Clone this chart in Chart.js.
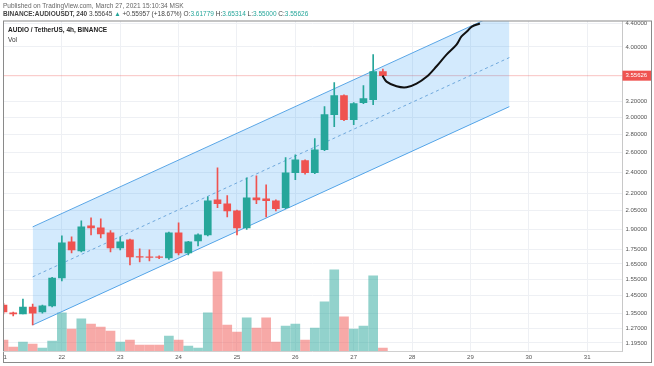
<!DOCTYPE html>
<html>
<head>
<meta charset="utf-8">
<script src="https://cdn.jsdelivr.net/npm/chart.js@4"></script>
<style>
  body { margin: 0; background: #fff; font-family: "Liberation Sans", Arial, sans-serif; }
  #wrap { position: relative; width: 654px; height: 366px; }
  canvas { position: absolute; left: 0; top: 0; }
  .txt { position: absolute; white-space: nowrap; font-size: 6.5px; line-height: 8px; color: #444; }
  .g { color: #26a69a; }
</style>
</head>
<body>
<div id="wrap">
  <canvas id="chart" width="654" height="366"></canvas>
  <div class="txt" style="left:3px;top:2px;color:#666">Published on TradingView.com, March 27, 2021 15:10:34 MSK</div>
  <div class="txt" style="left:3px;top:10px"><b>BINANCE:AUDIOUSDT, 240</b> 3.55645 <span class="g">▲</span> +0.55957 (+18.67%) O:<span class="g">3.61779</span> H:<span class="g">3.65314</span> L:<span class="g">3.55000</span> C:<span class="g">3.55626</span></div>
  <div class="txt" style="left:8px;top:26px;color:#222"><b>AUDIO / TetherUS, 4h, BINANCE</b></div>
  <div class="txt" style="left:8px;top:36px;color:#333">Vol</div>
</div>
<script>
// 4h candles, index 0 = Mar 21 00:00
const opens  = [1.395,1.352,1.345,1.384,1.356,1.390,1.558,1.805,1.740,1.927,1.911,1.873,1.762,1.820,1.700,1.698,1.699,1.691,1.873,1.726,1.813,1.858,2.143,2.109,2.049,1.911,2.161,2.152,2.135,2.075,2.393,2.514,2.393,2.629,3.033,3.278,2.972,3.186,3.225,3.61779];
const highs  = [1.405,1.356,1.430,1.401,1.395,1.562,1.850,1.843,1.967,1.991,1.983,1.890,1.843,1.825,1.755,1.747,1.705,1.878,1.951,1.810,1.865,2.170,2.443,2.180,2.055,2.345,2.364,2.279,2.143,2.545,2.576,2.524,2.750,3.134,3.457,3.290,3.186,3.415,3.876,3.65314];
const lows   = [1.345,1.334,1.345,1.286,1.350,1.384,1.539,1.726,1.733,1.858,1.835,1.733,1.747,1.643,1.664,1.670,1.685,1.680,1.712,1.712,1.776,1.850,2.075,1.999,1.858,1.900,2.109,1.999,2.049,2.066,2.326,2.380,2.385,2.620,2.888,2.960,2.912,3.173,3.160,3.55];
const closes = [1.356,1.346,1.384,1.350,1.390,1.558,1.798,1.747,1.919,1.911,1.865,1.762,1.805,1.698,1.696,1.695,1.694,1.873,1.726,1.805,1.858,2.135,2.109,2.049,1.911,2.161,2.143,2.135,2.066,2.393,2.524,2.393,2.629,3.033,3.278,2.972,3.173,3.238,3.616,3.55626];
const volumes = [110,40,90,70,30,100,380,220,320,270,240,200,90,110,60,60,60,150,110,50,30,380,790,260,190,330,230,330,90,250,270,110,230,490,810,340,220,250,750,30];

const priceTicks = [4.4,4.0,3.2,3.0,2.8,2.6,2.4,2.2,2.05,1.9,1.75,1.65,1.55,1.45,1.35,1.27,1.195];
const dayTicks = [0,6,12,18,24,30,36,42,48,54,60];
const dayLabels = ["21","22","23","24","25","26","27","28","29","30","31"];
const lastPrice = 3.55626;

// drawn channel (start / end candle index)
const chanX = [3, 52];
const chanUpper = [1.919, 4.678];
const chanMid = [1.565, 3.829];
const chanLower = [1.286, 3.134];

// hand drawn projection
const curveX = [38.96,39.37,40.40,41.43,42.46,43.49,44.52,45.54,46.57,47.08,47.74,48.15,48.97];
const curveY = [3.557,3.471,3.406,3.392,3.443,3.539,3.696,3.876,4.038,4.173,4.276,4.346,4.40];

const UP = "#26a69a", DOWN = "#ef5350";
const isUp = closes.map((c, i) => c >= opens[i]);
const candleColors = isUp.map(u => u ? UP : DOWN);
const volColors = isUp.map(u => u ? "rgba(38,166,154,0.5)" : "rgba(239,83,80,0.5)");
const pts = (xs, ys) => xs.map((x, i) => ({ x: x, y: ys[i] }));

const overlay = {
  id: "overlay",
  afterDraw(chart) {
    const { ctx, chartArea: a, scales: { x, y } } = chart;
    // time labels
    ctx.save();
    ctx.beginPath();
    ctx.rect(a.left, a.bottom, a.right - a.left, 12);
    ctx.clip();
    ctx.font = '6px "Liberation Sans", Arial';
    ctx.fillStyle = "#555";
    ctx.textAlign = "center";
    ctx.textBaseline = "middle";
    dayTicks.forEach((t, k) => ctx.fillText(dayLabels[k], x.getPixelForValue(t), 357));
    ctx.restore();

    // last price tag
    const py = y.getPixelForValue(lastPrice);
    ctx.save();
    ctx.fillStyle = DOWN;
    ctx.fillRect(a.right, py - 5, 28.5, 10);
    ctx.fillStyle = "#fff";
    ctx.font = '6px "Liberation Sans", Arial';
    ctx.textBaseline = "middle";
    ctx.fillText(lastPrice.toFixed(5), a.right + 3, py);

    // frame
    ctx.strokeStyle = "#8a8a8a";
    ctx.lineWidth = 1;
    ctx.strokeRect(3.5, a.top, 648, 362.5 - a.top);
    ctx.strokeStyle = "#d0d0d0";
    ctx.beginPath();
    ctx.moveTo(a.left, a.bottom + 0.5);
    ctx.lineTo(a.right, a.bottom + 0.5);
    ctx.stroke();
    ctx.restore();
  }
};

new Chart(document.getElementById("chart"), {
  type: "bar",
  data: {
    datasets: [
      {
        type: "line", order: 0,
        data: pts(curveX, curveY),
        borderColor: "#111", borderWidth: 2, tension: 0.35, pointRadius: 0
      },
      {
        order: 1, grouped: false,
        data: opens.map((o, i) => ({ x: i, y: [o, closes[i]] })),
        backgroundColor: candleColors, barThickness: 7
      },
      {
        order: 2, grouped: false,
        data: lows.map((l, i) => ({ x: i, y: [l, highs[i]] })),
        backgroundColor: candleColors, barThickness: 1
      },
      {
        type: "line", order: 3,
        data: pts(chanX, chanMid),
        borderColor: "#6fa8dc", borderWidth: 1, borderDash: [3, 3], pointRadius: 0
      },
      {
        type: "line", order: 4,
        data: pts(chanX, chanUpper),
        borderColor: "#5aa6e6", borderWidth: 1, pointRadius: 0,
        fill: "+1", backgroundColor: "rgba(33,150,243,0.2)"
      },
      {
        type: "line", order: 4,
        data: pts(chanX, chanLower),
        borderColor: "#5aa6e6", borderWidth: 1, pointRadius: 0
      },
      {
        type: "line", order: 5,
        data: [{ x: -1, y: lastPrice }, { x: 70, y: lastPrice }],
        borderColor: "rgba(239,83,80,0.35)", borderWidth: 1, pointRadius: 0
      },
      {
        order: 6, grouped: false, yAxisID: "v",
        data: volumes.map((v, i) => ({ x: i, y: v })),
        backgroundColor: volColors, barThickness: 9
      }
    ]
  },
  options: {
    animation: false,
    responsive: false,
    layout: { padding: { left: 3, top: 21, right: 3, bottom: 15 } },
    plugins: { legend: { display: false }, tooltip: { enabled: false } },
    scales: {
      x: {
        type: "linear",
        offset: false,
        min: -0.05, max: 63.63,
        afterBuildTicks: axis => { axis.ticks = dayTicks.map(v => ({ value: v })); },
        afterFit: axis => { axis.height = 0; },
        ticks: { display: false },
        grid: { color: "#eef0f4", drawTicks: false, offset: false },
        border: { display: false }
      },
      y: {
        type: "logarithmic",
        position: "right",
        min: 1.1565, max: 4.445,
        afterBuildTicks: axis => { axis.ticks = priceTicks.map(v => ({ value: v })); },
        afterFit: axis => { axis.width = 28.5; },
        ticks: {
          autoSkip: false, padding: 3, color: "#555",
          font: { size: 6, family: "Liberation Sans" },
          callback: v => Number(v).toFixed(5)
        },
        grid: { color: "#eef0f4", drawTicks: false },
        border: { color: "#c8c8c8" }
      },
      v: {
        display: false,
        min: 0, max: 3295
      }
    }
  },
  plugins: [overlay]
});
</script>
</body>
</html>
